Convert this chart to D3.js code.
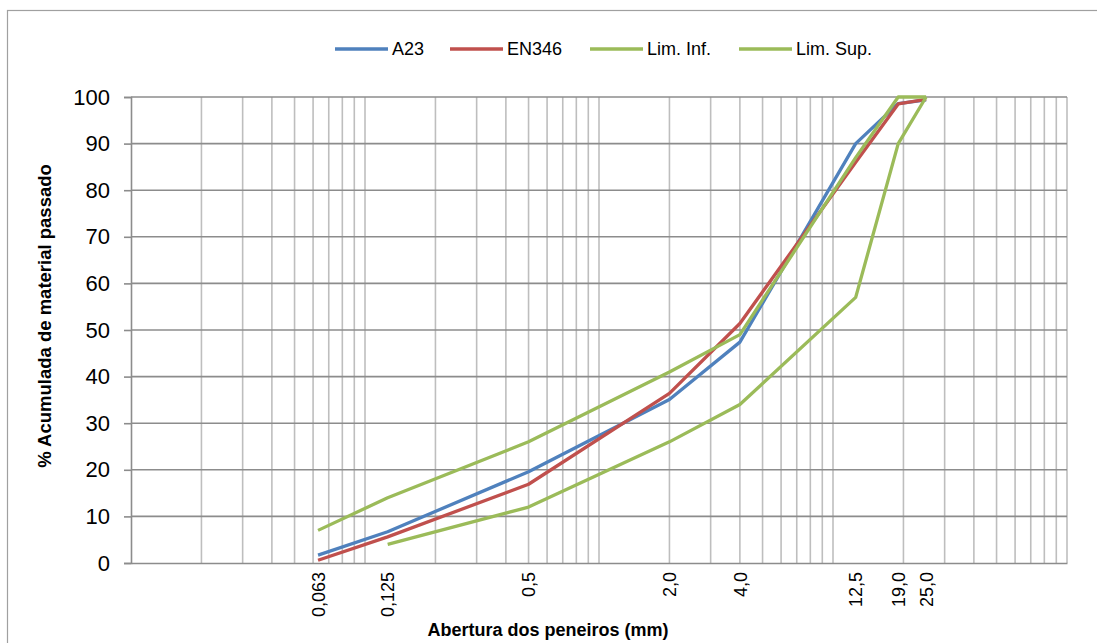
<!DOCTYPE html>
<html>
<head>
<meta charset="utf-8">
<script src="https://cdn.jsdelivr.net/npm/d3@7"></script>
<style>
  html, body { margin: 0; padding: 0; background: #fff; }
  svg { display: block; font-family: "Liberation Sans", Arial, sans-serif; }
</style>
</head>
<body>
<div id="chart"></div>
<script>
// sieve openings (mm) and tick labels
const sieves = [0.063, 0.125, 0.5, 2.0, 4.0, 12.5, 19.0, 25.0];
const sieveLabels = ['0,063', '0,125', '0,5', '2,0', '4,0', '12,5', '19,0', '25,0'];
const yTicks = [0, 10, 20, 30, 40, 50, 60, 70, 80, 90, 100];

// % passing, one value per sieve (null = no point)
const a23 = [1.7, 6.7, 19.6, 35.1, 47.4, 90, 98.6, 99.4];
const en346 = [0.6, 5.6, 16.9, 36.4, 51.4, 86, 98.5, 99.5];
const limInf = [null, 4, 12, 26, 34, 57, 90, 100];
const limSup = [7, 14, 26, 41, 49, 87, 100, 100];

const seriesNames = ['A23', 'EN346', 'Lim. Inf.', 'Lim. Sup.'];
const seriesColors = ['#4F81BD', '#C0504D', '#9BBB59', '#9BBB59'];

const series = [a23, en346, limInf, limSup].map((vals, i) => ({
    name: seriesNames[i],
    color: seriesColors[i],
    points: vals.map((v, j) => ({ x: sieves[j], y: v })).filter(d => d.y !== null)
}));

// dimensions
const width = 1097;
const height = 643;
const MARGIN_LEFT = 131;
const MARGIN_RIGHT = 30;
const MARGIN_TOP = 97;
const MARGIN_BOTTOM = 80;

const $svg = d3.select('#chart').append('svg')
    .attr('width', width)
    .attr('height', height);

// chart area frame
$svg.append('rect')
    .attr('x', 7.5).attr('y', 10.5)
    .attr('width', 1200).attr('height', 700)
    .attr('fill', '#fff')
    .attr('stroke', '#A0A0A0')
    .attr('stroke-width', 1.2);

const xScale = d3.scaleLog()
    .domain([0.01, 100])
    .range([MARGIN_LEFT, width - MARGIN_RIGHT]);
const yScale = d3.scaleLinear()
    .domain([0, 100])
    .range([height - MARGIN_BOTTOM, MARGIN_TOP]);

const $grid = $svg.append('g').attr('class', 'g-grid');

// vertical log grid: 1..9 per decade
const minorVals = [];
for (let e = -2; e <= 1; e++) {
    for (let m = 1; m <= 9; m++) minorVals.push(m * Math.pow(10, e));
}
minorVals.push(100);

$grid.selectAll('.v-line')
    .data(minorVals.filter(v => v > 0.01))
    .enter()
    .append('line')
    .attr('class', 'v-line')
    .attr('x1', d => xScale(d)).attr('x2', d => xScale(d))
    .attr('y1', yScale(0)).attr('y2', yScale(100))
    .attr('stroke', '#BEBEBE')
    .attr('stroke-width', 1.6);

$grid.selectAll('.h-line')
    .data(yTicks.filter(v => v > 0))
    .enter()
    .append('line')
    .attr('class', 'h-line')
    .attr('x1', xScale(0.01)).attr('x2', xScale(100))
    .attr('y1', d => yScale(d)).attr('y2', d => yScale(d))
    .attr('stroke', '#8C8C8C')
    .attr('stroke-width', 1.6);

// y axis
const yAxis = d3.axisLeft(yScale).tickValues(yTicks).tickSize(7).tickPadding(14);
const $yAxis = $svg.append('g')
    .attr('transform', `translate(${MARGIN_LEFT},0)`)
    .call(yAxis);
$yAxis.select('.domain').attr('stroke', '#8C8C8C').attr('stroke-width', 1.6);
$yAxis.selectAll('.tick line').attr('stroke', '#8C8C8C').attr('stroke-width', 1.6);
$yAxis.selectAll('.tick text')
    .attr('font-family', '"Liberation Sans", Arial, sans-serif')
    .attr('font-size', 22)
    .attr('fill', '#000');

// x axis (labels only at sieve sizes)
const xAxis = d3.axisBottom(xScale)
    .tickValues(sieves)
    .tickFormat((d, i) => sieveLabels[i])
    .tickSize(0);
const $xAxis = $svg.append('g')
    .attr('transform', `translate(0,${yScale(0)})`)
    .call(xAxis);
$xAxis.select('.domain').attr('stroke', '#8C8C8C').attr('stroke-width', 1.6);
$xAxis.selectAll('.tick text')
    .attr('font-family', '"Liberation Sans", Arial, sans-serif')
    .attr('font-size', 18)
    .attr('fill', '#000')
    .attr('text-anchor', 'end')
    .attr('transform', 'rotate(-90)')
    .attr('x', -9)
    .attr('y', 0)
    .attr('dy', '0.35em');

// lines
const line = d3.line()
    .x(d => xScale(d.x))
    .y(d => yScale(d.y));

const $vis = $svg.append('g').attr('class', 'g-vis');
$vis.selectAll('.cat-path')
    .data(series)
    .enter()
    .append('path')
    .attr('class', 'cat-path')
    .attr('d', d => line(d.points))
    .attr('fill', 'none')
    .attr('stroke', d => d.color)
    .attr('stroke-width', 3.3)
    .attr('stroke-linejoin', 'round');

// axis titles
$svg.append('text')
    .attr('x', 548).attr('y', 636)
    .attr('text-anchor', 'middle')
    .attr('font-size', 18)
    .attr('font-weight', 'bold')
    .text('Abertura dos peneiros (mm)');

$svg.append('text')
    .attr('transform', 'translate(51,316) rotate(-90)')
    .attr('text-anchor', 'middle')
    .attr('font-size', 18.5)
    .attr('font-weight', 'bold')
    .text('% Acumulada de material passado');

// legend
const legendX = [335, 450, 590, 739];
const $legend = $svg.append('g').attr('class', 'g-legend');
const $items = $legend.selectAll('.legend-item')
    .data(series)
    .enter()
    .append('g')
    .attr('class', 'legend-item')
    .attr('transform', (d, i) => `translate(${legendX[i]},49)`);
$items.append('line')
    .attr('x1', 0).attr('x2', 53)
    .attr('stroke', d => d.color)
    .attr('stroke-width', 3.3);
$items.append('text')
    .attr('x', 57)
    .attr('dy', '0.35em')
    .attr('font-size', 18)
    .text(d => d.name);
</script>
</body>
</html>
